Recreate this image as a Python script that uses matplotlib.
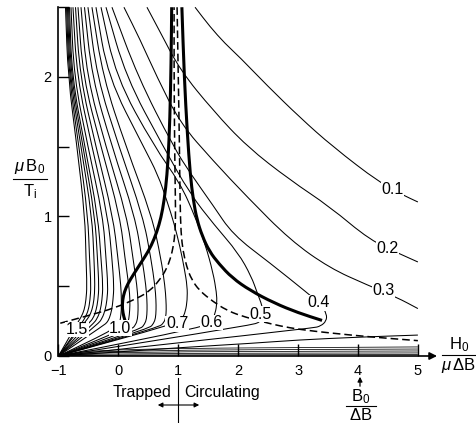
import matplotlib
matplotlib.use("Agg")
import matplotlib.pyplot as plt
from matplotlib.lines import Line2D
from matplotlib.patches import FancyArrowPatch, PathPatch
from matplotlib.path import Path

plt.rcParams['font.family'] = ['Liberation Sans', 'DejaVu Sans']
plt.rcParams['mathtext.fontset'] = 'custom'
plt.rcParams['mathtext.rm'] = 'Liberation Sans'
plt.rcParams['mathtext.it'] = 'Liberation Sans:italic'

# ---- curves (x = H0/(mu dB), y = mu B0/Ti) ----
# labelled contours on the right
lev_01 = [(1.28, 2.5), (1.53, 2.36), (1.78, 2.24), (2.03, 2.14), (2.48, 1.94), (3.03, 1.71),
          (3.58, 1.50), (4.37, 1.24), (4.75, 1.154), (5.0, 1.104)]
lev_02 = [(0.477, 2.5), (0.70, 2.32), (1.03, 2.05), (1.58, 1.76), (2.15, 1.50), (2.87, 1.26),
          (3.53, 1.07), (4.20, 0.83), (4.74, 0.724), (5.0, 0.674)]
lev_03 = [(0.093, 2.5), (0.36, 2.27), (0.644, 2.0), (1.03, 1.67), (1.58, 1.40), (2.15, 1.14),
          (2.87, 0.83), (3.53, 0.63), (4.15, 0.51), (4.65, 0.42), (5.0, 0.34)]
lev_03_low = [(-1, 0), (1.2, 0.065), (2.2, 0.09), (3.0, 0.115), (4.0, 0.135), (5.0, 0.15)]
lev_04 = [(-0.107, 2.5), (0.327, 2.0), (0.92, 1.5), (1.20, 1.31), (1.58, 1.08), (1.91, 0.87),
          (2.53, 0.667), (3.16, 0.45), (3.38, 0.37), (3.48, 0.30), (3.47, 0.25), (3.38, 0.215),
          (3.25, 0.20), (-1, 0)]
lev_05 = [(-0.207, 2.5), (0.127, 2.0), (0.75, 1.5), (1.2, 1.16), (1.6, 0.94), (2.0, 0.74),
          (2.22, 0.57), (2.32, 0.45), (2.40, 0.36), (2.43, 0.29), (2.38, 0.245), (2.2, 0.22), (-1, 0)]
lev_06 = [(-0.29, 2.5), (-0.04, 2.0), (0.60, 1.5), (1.03, 1.24), (1.28, 1.0), (1.45, 0.80),
          (1.58, 0.60), (1.64, 0.45), (1.645, 0.38), (1.62, 0.31), (1.56, 0.25), (1.45, 0.21), (-1, 0)]
lev_07 = [(-0.374, 2.5), (-0.174, 2.0), (0.42, 1.5), (0.66, 1.3), (0.82, 1.1), (0.93, 0.95),
          (1.03, 0.78), (1.10, 0.63), (1.15, 0.50), (1.15, 0.40), (1.12, 0.32), (1.07, 0.27),
          (0.98, 0.235), (-1, 0)]

# hairpins on the left, from the dense bundle (c1) across to 0.7
c1 = [(-0.883, 2.5), (-0.841, 2.0), (-0.691, 1.5), (-0.558, 1.0), (-0.541, 0.7), (-0.524, 0.5), (-0.541, 0.4),
      (-0.57, 0.33), (-0.62, 0.28), (-0.674, 0.244), (-1, 0)]
c2 = [(-0.866, 2.5), (-0.825, 2.0), (-0.658, 1.5), (-0.508, 1.0), (-0.482, 0.7), (-0.457, 0.5), (-0.474, 0.4),
      (-0.50, 0.33), (-0.55, 0.28), (-0.608, 0.237), (-1, 0)]
c3 = [(-0.85, 2.5), (-0.808, 2.0), (-0.624, 1.5), (-0.441, 1.0), (-0.407, 0.7), (-0.391, 0.5), (-0.407, 0.4),
      (-0.44, 0.33), (-0.49, 0.28), (-0.558, 0.244), (-1, 0)]
c4 = [(-0.833, 2.5), (-0.791, 2.0), (-0.591, 1.5), (-0.391, 1.0), (-0.349, 0.7), (-0.324, 0.5), (-0.341, 0.4),
      (-0.37, 0.33), (-0.42, 0.27), (-0.491, 0.237), (-1, 0)]
c5 = [(-0.816, 2.5), (-0.775, 2.0), (-0.558, 1.5), (-0.341, 1.0), (-0.29, 0.7), (-0.257, 0.5), (-0.274, 0.4),
      (-0.30, 0.33), (-0.35, 0.27), (-0.424, 0.229), (-1, 0)]
c6 = [(-0.791, 2.5), (-0.741, 2.0), (-0.508, 1.5), (-0.257, 1.0), (-0.207, 0.7), (-0.174, 0.5), (-0.19, 0.4),
      (-0.22, 0.33), (-0.27, 0.27), (-0.341, 0.229), (-1, 0)]
c7 = [(-0.758, 2.5), (-0.691, 2.0), (-0.441, 1.5), (-0.174, 1.0), (-0.107, 0.7), (-0.073, 0.5), (-0.09, 0.4),
      (-0.11, 0.33), (-0.15, 0.27), (-0.19, 0.24), (-0.24, 0.222), (-1, 0)]
c8 = [(-0.716, 2.5), (-0.641, 2.0), (-0.374, 1.5), (-0.09, 1.0), (-0.007, 0.7), (0.043, 0.5), (0.05, 0.4),
      (0.05, 0.33), (0.035, 0.265), (0.0, 0.205), (-1, 0)]
c9 = [(-0.674, 2.5), (-0.591, 2.0), (-0.29, 1.5), (0.027, 1.0), (0.11, 0.7), (0.177, 0.5), (0.194, 0.4),
      (0.19, 0.33), (0.175, 0.265), (0.15, 0.225), (0.10, 0.193), (-1, 0)]
c10 = [(-0.624, 2.5), (-0.524, 2.0), (-0.207, 1.5), (0.144, 1.0), (0.244, 0.7), (0.311, 0.5), (0.327, 0.4),
       (0.33, 0.33), (0.32, 0.265), (0.29, 0.225), (0.22, 0.19), (-1, 0)]
c11 = [(-0.566, 2.5), (-0.441, 2.0), (-0.107, 1.5), (0.277, 1.0), (0.394, 0.7), (0.461, 0.5), (0.477, 0.4),
       (0.48, 0.33), (0.47, 0.265), (0.44, 0.23), (0.37, 0.192), (-1, 0)]
c12 = [(-0.508, 2.5), (-0.357, 2.0), (0.01, 1.5), (0.411, 1.0), (0.544, 0.7), (0.611, 0.5), (0.628, 0.4),
       (0.63, 0.33), (0.62, 0.27), (0.59, 0.235), (0.52, 0.198), (-1, 0)]
c13 = [(-0.441, 2.5), (-0.257, 2.0), (0.127, 1.5), (0.561, 1.0), (0.711, 0.7), (0.778, 0.5), (0.795, 0.4),
       (0.80, 0.33), (0.79, 0.275), (0.76, 0.24), (0.68, 0.207), (-1, 0)]

# thin lines squeezed along the axis: height near x = -0.3 and at x = 5
band_mid = [0.052, 0.04, 0.029, 0.018, 0.008]
band_end = [0.065, 0.05, 0.036, 0.022, 0.01]

# heavy boundary curve, two branches
thick_left = [(0.13, 0.23), (0.09, 0.28), (0.065, 0.34), (0.07, 0.40), (0.10, 0.46), (0.16, 0.52),
              (0.26, 0.59), (0.38, 0.67), (0.50, 0.75), (0.60, 0.84), (0.68, 0.94), (0.74, 1.05),
              (0.79, 1.2), (0.83, 1.4), (0.86, 1.7), (0.88, 2.1), (0.89, 2.5)]
thick_right = [(1.06, 2.5), (1.10, 2.0), (1.15, 1.6), (1.20, 1.3), (1.25, 1.12), (1.31, 0.98),
               (1.40, 0.86), (1.52, 0.75), (1.68, 0.66), (1.90, 0.56), (2.2, 0.47), (2.6, 0.38),
               (3.0, 0.31), (3.4, 0.255)]

# dashed curve, up on the left of the spike and down on the right
dash_left = [(-0.97, 0.235), (-0.5, 0.29), (-0.06, 0.344), (0.327, 0.416), (0.52, 0.465), (0.68, 0.54),
             (0.80, 0.62), (0.87, 0.70), (0.92, 0.79), (0.95, 0.90), (0.955, 1.05), (0.945, 1.3),
             (0.935, 1.7), (0.93, 2.1), (0.93, 2.5)]
dash_right = [(0.98, 2.5), (1.0, 2.0), (1.02, 1.5), (1.03, 1.1), (1.045, 0.88), (1.08, 0.75), (1.14, 0.64),
              (1.22, 0.55), (1.35, 0.47), (1.58, 0.39), (1.8, 0.33), (2.03, 0.29), (2.41, 0.245),
              (2.70, 0.215), (3.03, 0.19), (3.53, 0.165), (4.2, 0.137), (5.0, 0.11)]

# curve labels
label_text = ['0.1', '0.2', '0.3', '0.4', '0.5', '0.6', '0.7', '1.0', '1.5']
label_x = [4.57, 4.50, 4.42, 3.35, 2.38, 1.56, 0.98, 0.03, -0.69]
label_y = [1.19, 0.77, 0.466, 0.38, 0.30, 0.24, 0.23, 0.20, 0.19]

x_ticks = [-1, 0, 1, 2, 3, 4, 5]
y_ticks = [0, 0.5, 1, 1.5, 2, 2.5]
y_ticklabels = ['0', '', '1', '', '2', '']

W, H = 477, 423
fig = plt.figure(figsize=(W / 100, H / 100), dpi=100)
ax = fig.add_axes([0.1226, 0.1584, 0.8288, 0.8245])
ax.set_xlim(-1, 5.6)
ax.set_ylim(0, 2.5)


def draw(pts, lw, ls='solid'):
    # rounded polyline: each read point is used as a quadratic control point
    verts = [pts[0]]
    codes = [Path.MOVETO]
    if len(pts) > 2:
        for i in range(1, len(pts) - 1):
            a, b, c = pts[i - 1], pts[i], pts[i + 1]
            if i == 1:
                verts.append(((a[0] + b[0]) / 2, (a[1] + b[1]) / 2))
                codes.append(Path.LINETO)
            verts += [b, ((b[0] + c[0]) / 2, (b[1] + c[1]) / 2)]
            codes += [Path.CURVE3, Path.CURVE3]
    verts.append(pts[-1])
    codes.append(Path.LINETO)
    ax.add_patch(PathPatch(Path(verts, codes), fill=False, ec='black', lw=lw, ls=ls,
                           capstyle='butt', joinstyle='round'))


for c in [lev_01, lev_02, lev_03, lev_03_low, lev_04, lev_05, lev_06, lev_07,
          c1, c2, c3, c4, c5, c6, c7, c8, c9, c10, c11, c12, c13]:
    draw(c, 0.75)
for m, e in zip(band_mid, band_end):
    draw([(-1, 0), (-0.3, m), (5, e)], 0.55)
ax.plot([5, 5], [0, band_end[0]], color='black', lw=0.6)

draw(thick_left, 2.2)
draw(thick_right, 2.2)
for d in [dash_left, dash_right]:
    draw(d, 1.1, ls=(0, (5, 2.6)))

for s, x, y in zip(label_text, label_x, label_y):
    ax.text(x, y, s, ha='center', va='center', fontsize=11.5, zorder=5,
            bbox=dict(fc='white', ec='none', pad=0.3))

# axes
for side in ['top', 'right', 'bottom']:
    ax.spines[side].set_visible(False)
ax.spines['left'].set_bounds(0, 2.5)
ax.spines['left'].set_linewidth(1.2)
ax.annotate('', xy=(5.32, 0), xytext=(-1, 0), xycoords='data',
            arrowprops=dict(arrowstyle='-|>', lw=1.2, color='black', mutation_scale=11,
                            shrinkA=0, shrinkB=0), annotation_clip=False)
ax.set_xticks(x_ticks)
ax.set_xticklabels(['\u22121' if t < 0 else str(t) for t in x_ticks], fontsize=10.5)
ax.set_yticks(y_ticks)
ax.set_yticklabels(y_ticklabels, fontsize=10.5)
ax.tick_params(axis='x', direction='in', length=9, width=1, pad=6)
ax.tick_params(axis='y', direction='in', length=8, width=1, pad=5)


def fx(px):
    return px / W


def fy(py):
    return 1 - py / H


# y label as a fraction
fig.text(fx(30), fy(166), r'$\mu\,\mathrm{B}_0$', ha='center', va='center', fontsize=12)
fig.add_artist(Line2D([fx(13), fx(47)], [fy(179), fy(179)], color='black', lw=0.8))
fig.text(fx(30), fy(192), r'$\mathrm{T}_\mathrm{i}$', ha='center', va='center', fontsize=12)

# x label as a fraction
fig.text(fx(459), fy(345), r'$\mathrm{H}_0$', ha='center', va='center', fontsize=12)
fig.add_artist(Line2D([fx(442), fx(477)], [fy(355), fy(355)], color='black', lw=0.8))
fig.text(fx(459), fy(365), r'$\mu\,\Delta\mathrm{B}$', ha='center', va='center', fontsize=12)

# trapped / circulating marker
fig.text(fx(172), fy(392), 'Trapped', ha='right', va='center', fontsize=11.5)
fig.text(fx(184), fy(392), 'Circulating', ha='left', va='center', fontsize=11.5)
fig.add_artist(Line2D([fx(178), fx(178)], [fy(378), fy(423)], color='black', lw=0.8))
fig.add_artist(FancyArrowPatch((fx(155), fy(405)), (fx(202), fy(405)), transform=fig.transFigure,
                               arrowstyle='<|-|>', mutation_scale=7, lw=0.8, color='black'))

# B0 / dB marker under x = 4
fig.add_artist(FancyArrowPatch((fx(360), fy(389)), (fx(360), fy(374)), transform=fig.transFigure,
                               arrowstyle='-|>', mutation_scale=7, lw=0.9, color='black'))
fig.text(fx(361), fy(397), r'$\mathrm{B}_0$', ha='center', va='center', fontsize=12)
fig.add_artist(Line2D([fx(346), fx(376)], [fy(406), fy(406)], color='black', lw=0.8))
fig.text(fx(361), fy(415), r'$\Delta\mathrm{B}$', ha='center', va='center', fontsize=12)

fig.savefig('out.png', dpi=100)
